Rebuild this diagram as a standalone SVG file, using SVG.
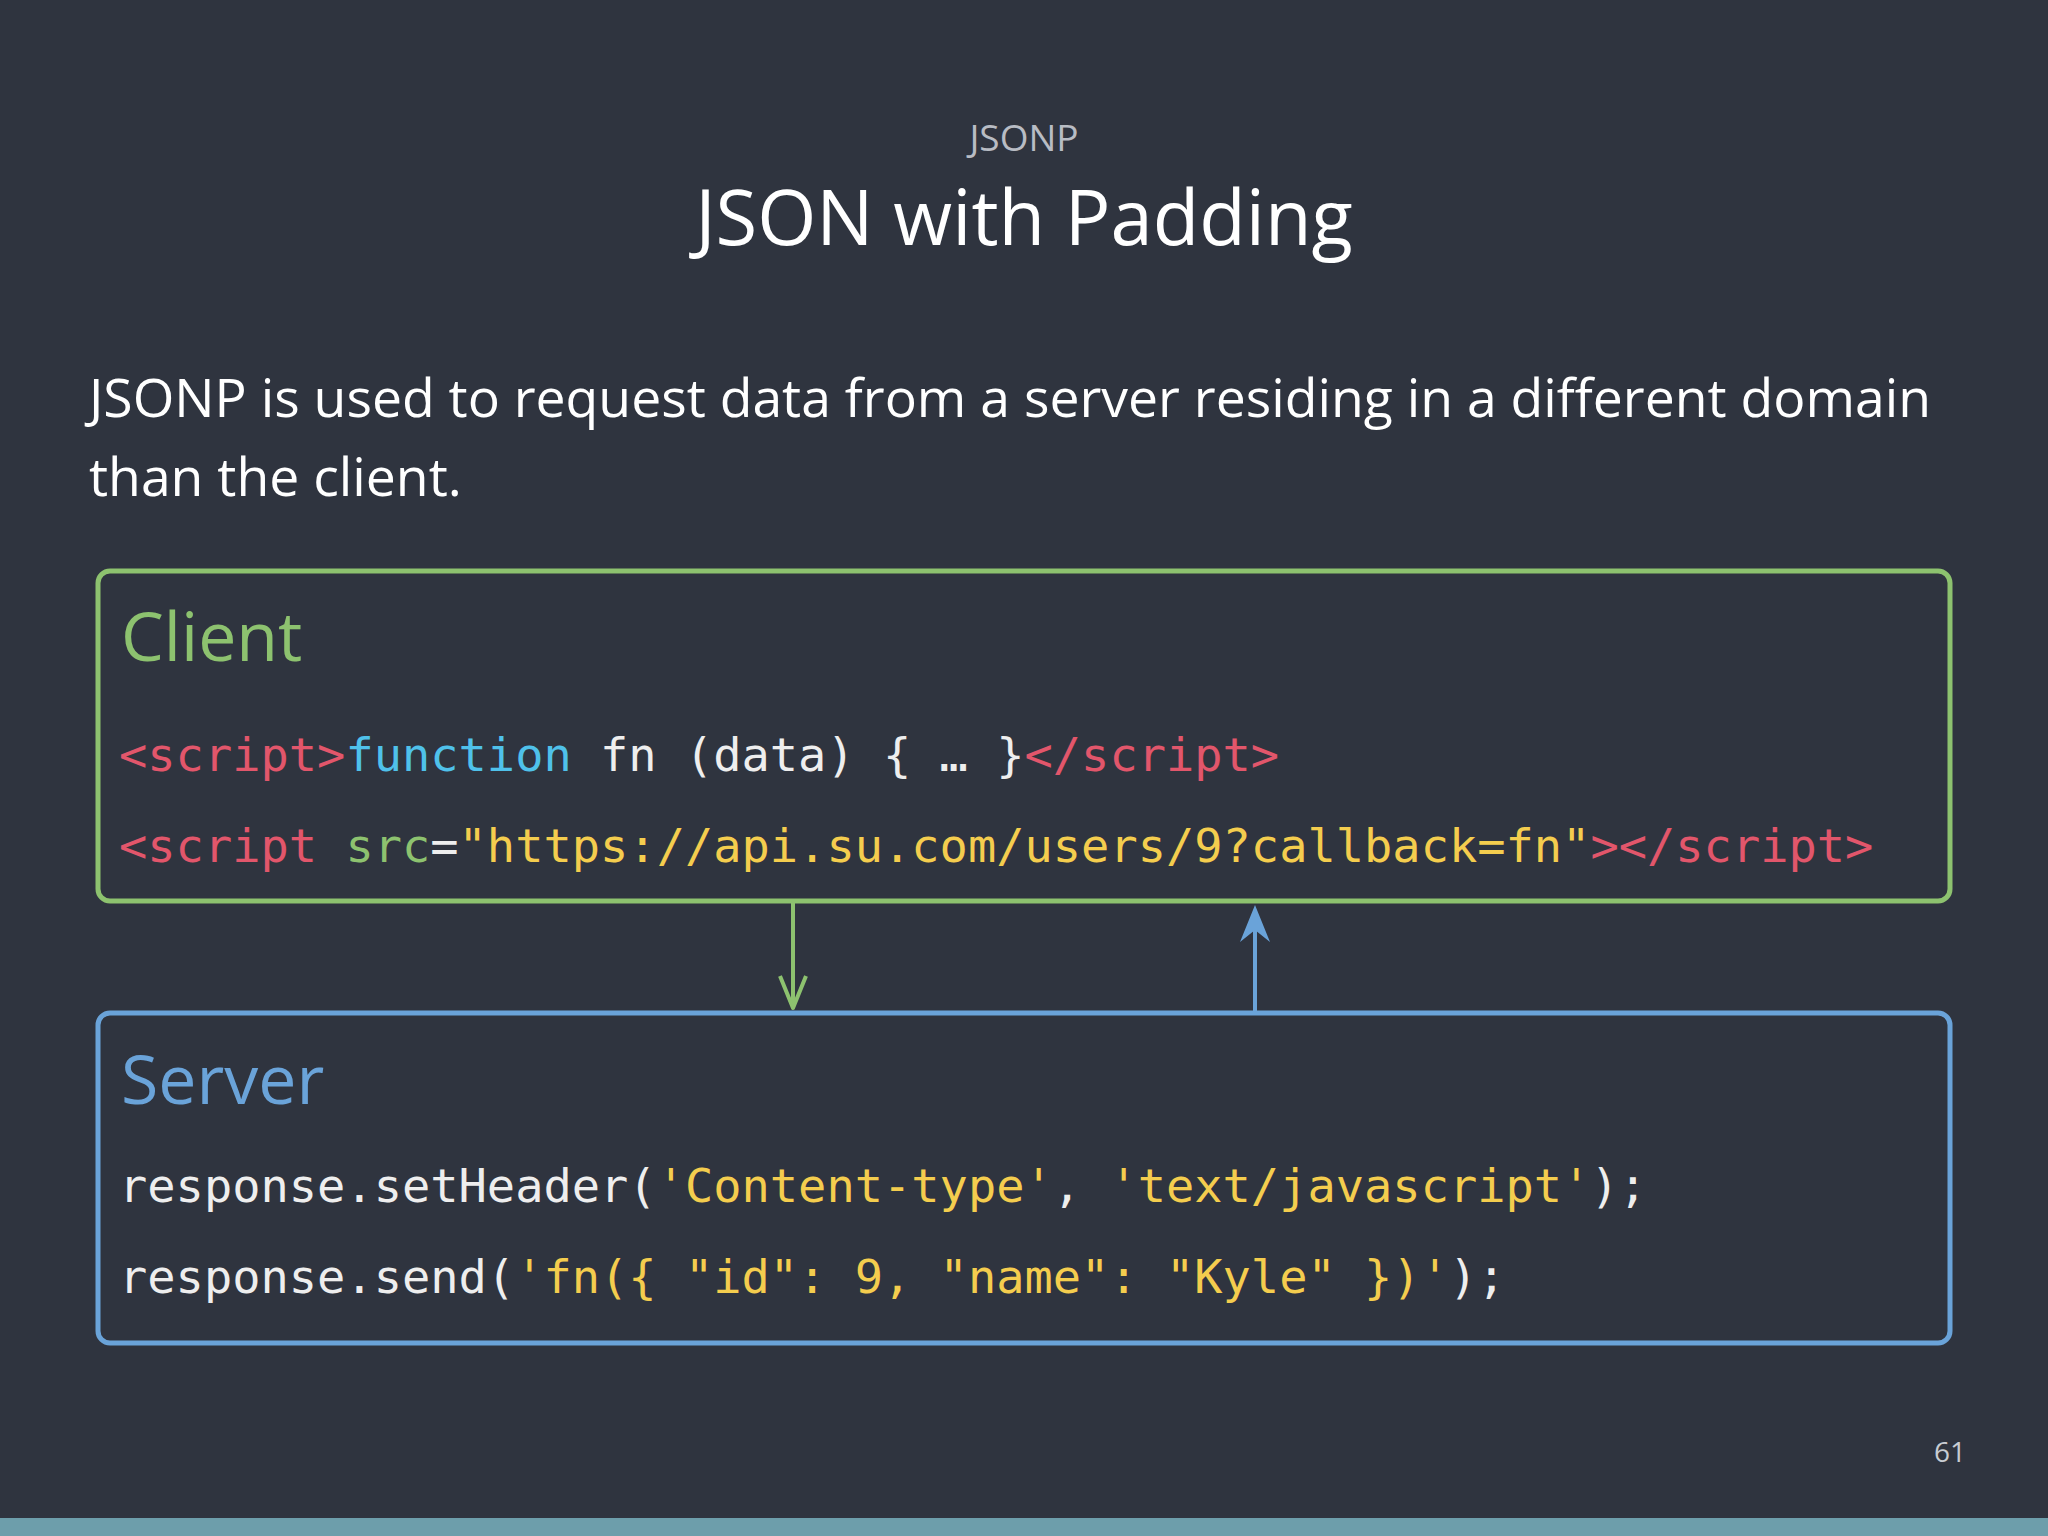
<svg xmlns="http://www.w3.org/2000/svg" width="2048" height="1536" viewBox="0 0 2048 1536">
<defs>
<style>
.sans{font-family:"Open Sans","Liberation Sans",sans-serif}
.mono{font-family:"DejaVu Sans Mono","Liberation Mono",monospace;font-size:47px;fill:#eeeeee}
.r{fill:#e2566b}.c{fill:#4fc1ea}.y{fill:#f4cd4e}.g{fill:#8dc26f}
</style>
</defs>
<rect width="2048" height="1536" fill="#2f343f"/>
<rect y="1518" width="2048" height="18" fill="#6d9eab"/>
<text class="sans" x="1024" y="151" text-anchor="middle" font-size="37" fill="#b8bcc4">JSONP</text>
<text class="sans" x="1024" y="245" text-anchor="middle" font-size="76" fill="#ffffff">JSON with Padding</text>
<text class="sans" x="89" y="417" font-size="53.5" fill="#ffffff">JSONP is used to request data from a server residing in a different domain</text>
<text class="sans" x="89" y="496" font-size="53.5" fill="#ffffff">than the client.</text>
<g id="client">
<rect x="98" y="571" width="1852" height="330" rx="12" fill="none" stroke="#8dc26f" stroke-width="5"/>
<text class="sans g" x="121" y="661" font-size="68">Client</text>
<text class="mono" x="119" y="771"><tspan class="r">&lt;script&gt;</tspan><tspan class="c">function</tspan> fn (data) { … }<tspan class="r">&lt;/script&gt;</tspan></text>
<text class="mono" x="119" y="862"><tspan class="r">&lt;script</tspan> <tspan class="g">src</tspan>=<tspan class="y">"https://api.su.com/users/9?callback=fn"</tspan><tspan class="r">&gt;&lt;/script&gt;</tspan></text>
</g>
<g id="server">
<rect x="98" y="1013" width="1852" height="330" rx="12" fill="none" stroke="#6aa3d9" stroke-width="5"/>
<text class="sans" x="121" y="1104" font-size="68" fill="#6aa3d9">Server</text>
<text class="mono" x="119" y="1202">response.setHeader(<tspan class="y">'Content-type'</tspan>, <tspan class="y">'text/javascript'</tspan>);</text>
<text class="mono" x="119" y="1293">response.send(<tspan class="y">'fn({ "id": 9, "name": "Kyle" })'</tspan>);</text>
</g>
<g id="connectors">
<line x1="793" y1="903" x2="793" y2="1008" stroke="#8dc26f" stroke-width="4"/>
<path d="M780 976 L793 1008 L806 976" fill="none" stroke="#8dc26f" stroke-width="4" stroke-linejoin="round"/>
<line x1="1255" y1="1011" x2="1255" y2="912" stroke="#6aa3d9" stroke-width="4"/>
<path d="M1240 942 L1255 905 L1270 942 L1255 930 Z" fill="#6aa3d9"/>
</g>
<text class="sans" x="1966" y="1462" text-anchor="end" font-size="28" fill="#c8ccd2">61</text>
</svg>
